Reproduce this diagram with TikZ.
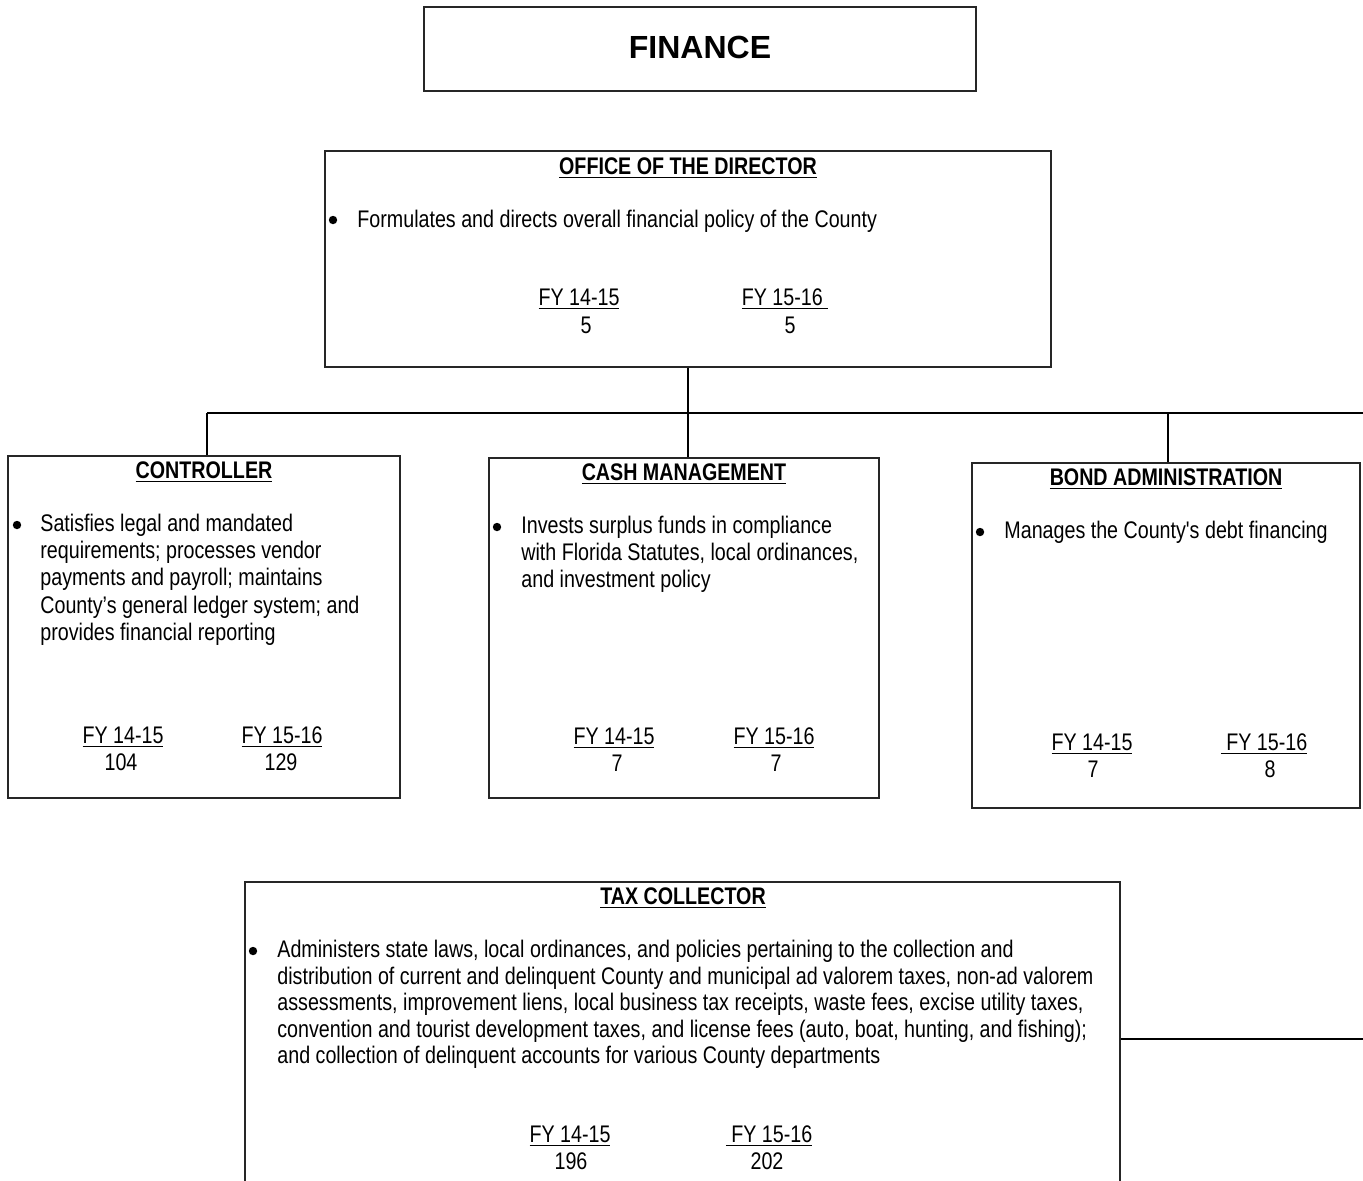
\documentclass[tikz,border=0pt]{standalone}
\usepackage{fontspec}
\setmainfont{Liberation Sans}
\newfontfamily\nar[FakeStretch=0.82]{Liberation Sans}
\begin{document}
\begin{tikzpicture}[x=0.5pt,y=-0.5pt,
  box/.style={draw=black!85, line width=0.7pt, inner sep=0pt},
  conn/.style={draw=black, line width=1pt},
  ttl/.style={anchor=base, inner sep=0pt, font=\nar\fontsize{12}{13.6}\selectfont\bfseries},
  fy/.style={anchor=base, inner sep=0pt, font=\nar\fontsize{12}{13.6}\selectfont},
  body/.style={anchor=base west, inner sep=0pt, align=left, text width=#1, font=\nar\fontsize{12}{13.6}\selectfont},
  bul/.style={fill=black}]
\useasboundingbox (0,0) rectangle (1363,1180);
\clip (0,0) rectangle (1363,1180);
% boxes
\node[box, line width=1pt, minimum width=276pt, minimum height=42pt] (fin) at (700,49) {};
\node[anchor=base, inner sep=0pt, font=\fontsize{16}{18}\selectfont\bfseries] (fint) at (700,58) {FINANCE};
\node[box, minimum width=363pt, minimum height=108pt] (dir) at (688,259) {};
\node[box, minimum width=196pt, minimum height=171pt] (ctrl) at (204,627) {};
\node[box, minimum width=195pt, minimum height=170pt] (cash) at (684,628) {};
\node[box, minimum width=194pt, minimum height=172.5pt] (bond) at (1166,635.5) {};
\node[box, minimum width=437.5pt, minimum height=159pt] (tax) at (682.5,1041) {};
% connectors
\coordinate (jc) at (688,413);
\coordinate (busL) at (207,413);
\coordinate (busR) at (1363,413);
\coordinate (dropB) at (1168,413);
\coordinate (taxR) at (1363,1039);
\draw[conn] (dir.south) -- (jc);
\draw[conn] (busL) -- (busR);
\draw[conn] (busL) -- (busL |- ctrl.north);
\draw[conn] (jc) -- (jc |- cash.north);
\draw[conn] (dropB) -- (dropB |- bond.north);
\draw[conn] (tax.east |- taxR) -- (taxR);
% director
\node[ttl] (dirt) at (688,174) {\underline{OFFICE OF THE DIRECTOR}};
\fill[bul] (333,220) circle (2.1pt);
\node[body=400pt] (dirb) at (357,227) {\spaceskip=0pt\xspaceskip=0pt Formulates and directs overall financial policy of the County};
\node[fy] (dira) at (579,305) {\underline{FY 14-15}};
\node[fy] (dirb1) at (586,333) {5};
\node[fy] (dirc) at (785,305) {\underline{FY 15-16\ }};
\node[fy] (dird) at (790,333) {5};
% controller
\node[ttl] (ctrlt) at (204,478) {\underline{CONTROLLER}};
\fill[bul] (17,525) circle (2.1pt);
\node[body=200pt] (ctrlb) at (40,531.5) {\spaceskip=0pt\xspaceskip=0pt Satisfies legal and mandated\\requirements; processes vendor\\payments and payroll; maintains\\County’s general ledger system; and\\provides financial reporting};
\node[fy] (ctrla) at (123,743) {\underline{FY 14-15}};
\node[fy] (ctrlb2) at (121,770) {104};
\node[fy] (ctrlc) at (282,743) {\underline{FY 15-16}};
\node[fy] (ctrld) at (281,770) {129};
% cash
\node[ttl] (casht) at (684,480) {\underline{CASH MANAGEMENT}};
\fill[bul] (497,527) circle (2.1pt);
\node[body=200pt] (cashb) at (521,533.5) {\spaceskip=0pt\xspaceskip=0pt Invests surplus funds in compliance\\with Florida Statutes, local ordinances,\\and investment policy};
\node[fy] (casha) at (614,744) {\underline{FY 14-15}};
\node[fy] (cashb2) at (617,771) {7};
\node[fy] (cashc) at (774,744) {\underline{FY 15-16}};
\node[fy] (cashd) at (776,771) {7};
% bond
\node[ttl] (bondt) at (1166,485) {\underline{BOND ADMINISTRATION}};
\fill[bul] (980,532) circle (2.1pt);
\node[body=200pt] (bondb) at (1004,538.5) {\spaceskip=0pt\xspaceskip=0pt Manages the County's debt financing};
\node[fy] (bonda) at (1092,750) {\underline{FY 14-15}};
\node[fy] (bondb2) at (1093,777) {7};
\node[fy] (bondc) at (1264,750) {\underline{\ FY 15-16}};
\node[fy] (bondd) at (1270,777) {8};
% tax
\node[ttl] (taxt) at (683,904) {\underline{TAX COLLECTOR}};
\fill[bul] (253,951) circle (2.1pt);
\node[body=450pt, font=\nar\fontsize{12}{13.25}\selectfont] (taxb) at (277,957.5) {\spaceskip=0pt\xspaceskip=0pt Administers state laws, local ordinances, and policies pertaining to the collection and\\distribution of current and delinquent County and municipal ad valorem taxes, non-ad valorem\\assessments, improvement liens, local business tax receipts, waste fees, excise utility taxes,\\convention and tourist development taxes, and license fees (auto, boat, hunting, and fishing);\\and collection of delinquent accounts for various County departments};
\node[fy] (taxa) at (570,1142) {\underline{FY 14-15}};
\node[fy] (taxb2) at (571,1169) {196};
\node[fy] (taxc) at (769,1142) {\underline{\ FY 15-16}};
\node[fy] (taxd) at (767,1169) {202};
\end{tikzpicture}
\end{document}
